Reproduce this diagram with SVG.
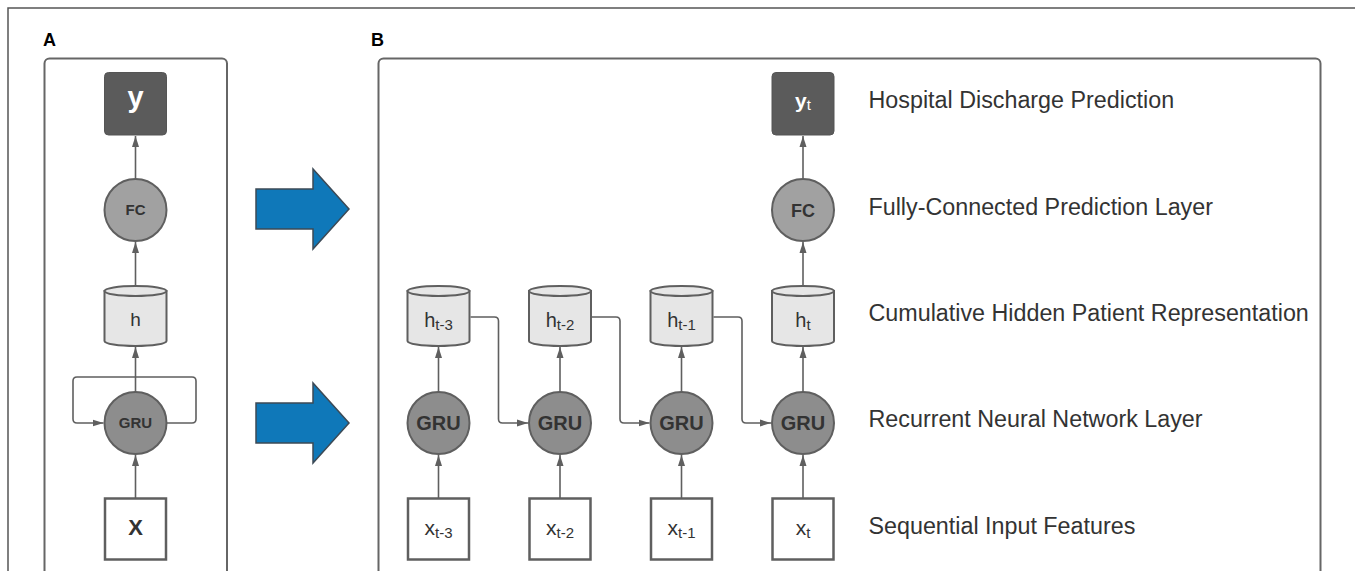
<svg xmlns="http://www.w3.org/2000/svg" width="1355" height="571" viewBox="0 0 1355 571">
<defs>
<marker id="ah" markerUnits="userSpaceOnUse" markerWidth="12" markerHeight="8" refX="11" refY="4" orient="auto">
<path d="M0,0.5 L11,4 L0,7.5 Z" fill="#5f5f5f"/>
</marker>
<style>
.frame{fill:none;stroke:#666;stroke-width:2}
.outer{fill:none;stroke:#555;stroke-width:1.5}
.big{fill:#0f78b9;stroke:#3c4a56;stroke-width:1.5}
.ybox{fill:#5b5b5b;stroke:#555;stroke-width:1}
.xbox{fill:#fff;stroke:#5f5f5f;stroke-width:2.5}
.fc{fill:#a1a1a1;stroke:#5f5f5f;stroke-width:2}
.gru{fill:#8d8d8d;stroke:#5f5f5f;stroke-width:2}
.cyl{fill:#e6e6e6;stroke:#5f5f5f;stroke-width:2}
.con{fill:none;stroke:#5f5f5f;stroke-width:1.6;marker-end:url(#ah)}
text{font-family:"Liberation Sans",Arial,sans-serif}
.lbl{font-size:23.3px;fill:#333}
.pan{font-size:18px;font-weight:bold;fill:#000}
.nt{fill:#333;text-anchor:middle}
.wt{fill:#fff;text-anchor:middle}
</style>
</defs>
<rect class="outer" x="8" y="8" width="1400" height="600"/>
<text class="pan" x="43" y="46">A</text>
<text class="pan" x="371" y="46">B</text>
<rect class="frame" x="44.5" y="58.5" width="182.5" height="560" rx="5"/>
<rect class="frame" x="378.5" y="58.5" width="942" height="560" rx="5"/>
<g id="arrow1"><polygon class="big" points="256,189 313,189 313,169 349,209 313,249 313,229 256,229"/></g>
<g id="arrow2"><polygon class="big" points="256,403 313,403 313,383 349,423 313,463 313,443 256,443"/></g>
<g id="connectors">
<path class="con" d="M135.5,178.5 V136"/>
<path class="con" d="M135.5,286 V242"/>
<path class="con" d="M135.5,392 V347"/>
<path class="con" d="M135.5,498 V455"/>
<path class="con" d="M166.5,423 H192 Q196,423 196,419 V381 Q196,377 192,377 H77 Q73,377 73,381 V419 Q73,423 77,423 H103.5"/>
<path class="con" d="M438.5,498.5 V455"/>
<path class="con" d="M560,498.5 V455"/>
<path class="con" d="M681.5,498.5 V455"/>
<path class="con" d="M803,498.5 V455"/>
<path class="con" d="M438.5,392 V347"/>
<path class="con" d="M560,392 V347"/>
<path class="con" d="M681.5,392 V347"/>
<path class="con" d="M803,392 V347"/>
<path class="con" d="M803,286 V242"/>
<path class="con" d="M803,178.5 V136"/>
<path class="con" d="M470.5,317 H494.5 Q498.5,317 498.5,321 V419 Q498.5,423 502.5,423 H528"/>
<path class="con" d="M592,317 H616 Q620,317 620,321 V419 Q620,423 624,423 H649.5"/>
<path class="con" d="M713.5,317 H738 Q742,317 742,321 V419 Q742,423 746,423 H771"/>
</g>
<g id="A_y"><rect class="ybox" x="104.5" y="72.5" width="62" height="62.5" rx="4"/><text class="wt" x="135.5" y="106.5" font-size="29" font-weight="bold">y</text></g>
<g id="A_fc"><circle class="fc" cx="135.5" cy="210" r="31"/><text class="nt" x="135.5" y="215" font-size="15" font-weight="bold">FC</text></g>
<g id="A_h"><path class="cyl" d="M104.5,291 V341 A31,5 0 0 0 166.5,341 V291 Z"/><ellipse class="cyl" cx="135.5" cy="291" rx="31" ry="5"/><text class="nt" x="135.5" y="326" font-size="19">h</text></g>
<g id="A_gru"><circle class="gru" cx="135.5" cy="423" r="31"/><text class="nt" x="135.5" y="428" font-size="15" font-weight="bold">GRU</text></g>
<g id="A_x"><rect class="xbox" x="105" y="498.5" width="61" height="61"/><text class="nt" x="135.5" y="535" font-size="22" font-weight="bold">X</text></g>
<g id="B_y"><rect class="ybox" x="772" y="72.5" width="62" height="62.5" rx="4"/><text class="wt" x="803" y="107.5"><tspan font-size="21" font-weight="bold">y</tspan><tspan font-size="15" dy="2.5">t</tspan></text></g>
<g id="B_fc"><circle class="fc" cx="803" cy="210" r="31"/><text class="nt" x="803" y="216.5" font-size="18" font-weight="bold">FC</text></g>
<g id="B_h3"><path class="cyl" d="M407.5,291 V341 A31,5 0 0 0 469.5,341 V291 Z"/><ellipse class="cyl" cx="438.5" cy="291" rx="31" ry="5"/><text class="nt" x="438.5" y="326.5"><tspan font-size="20">h</tspan><tspan font-size="15" dy="3">t-3</tspan></text></g>
<g id="B_h2"><path class="cyl" d="M529,291 V341 A31,5 0 0 0 591,341 V291 Z"/><ellipse class="cyl" cx="560" cy="291" rx="31" ry="5"/><text class="nt" x="560" y="326.5"><tspan font-size="20">h</tspan><tspan font-size="15" dy="3">t-2</tspan></text></g>
<g id="B_h1"><path class="cyl" d="M650.5,291 V341 A31,5 0 0 0 712.5,341 V291 Z"/><ellipse class="cyl" cx="681.5" cy="291" rx="31" ry="5"/><text class="nt" x="681.5" y="326.5"><tspan font-size="20">h</tspan><tspan font-size="15" dy="3">t-1</tspan></text></g>
<g id="B_h0"><path class="cyl" d="M772,291 V341 A31,5 0 0 0 834,341 V291 Z"/><ellipse class="cyl" cx="803" cy="291" rx="31" ry="5"/><text class="nt" x="803" y="326.5"><tspan font-size="20">h</tspan><tspan font-size="15" dy="3">t</tspan></text></g>
<g id="B_g3"><circle class="gru" cx="438.5" cy="423" r="31"/><text class="nt" x="438.5" y="430" font-size="20" font-weight="bold">GRU</text></g>
<g id="B_g2"><circle class="gru" cx="560" cy="423" r="31"/><text class="nt" x="560" y="430" font-size="20" font-weight="bold">GRU</text></g>
<g id="B_g1"><circle class="gru" cx="681.5" cy="423" r="31"/><text class="nt" x="681.5" y="430" font-size="20" font-weight="bold">GRU</text></g>
<g id="B_g0"><circle class="gru" cx="803" cy="423" r="31"/><text class="nt" x="803" y="430" font-size="20" font-weight="bold">GRU</text></g>
<g id="B_x3"><rect class="xbox" x="408" y="498.5" width="61" height="61"/><text class="nt" x="438.5" y="535"><tspan font-size="21">x</tspan><tspan font-size="15" dy="2.5">t-3</tspan></text></g>
<g id="B_x2"><rect class="xbox" x="529.5" y="498.5" width="61" height="61"/><text class="nt" x="560" y="535"><tspan font-size="21">x</tspan><tspan font-size="15" dy="2.5">t-2</tspan></text></g>
<g id="B_x1"><rect class="xbox" x="651" y="498.5" width="61" height="61"/><text class="nt" x="681.5" y="535"><tspan font-size="21">x</tspan><tspan font-size="15" dy="2.5">t-1</tspan></text></g>
<g id="B_x0"><rect class="xbox" x="772.5" y="498.5" width="61" height="61"/><text class="nt" x="803" y="535"><tspan font-size="21">x</tspan><tspan font-size="15" dy="2.5">t</tspan></text></g>
<g id="labels">
<text class="lbl" x="868.5" y="108">Hospital Discharge Prediction</text>
<text class="lbl" x="868.5" y="215">Fully-Connected Prediction Layer</text>
<text class="lbl" x="868.5" y="320.5">Cumulative Hidden Patient Representation</text>
<text class="lbl" x="868.5" y="427">Recurrent Neural Network Layer</text>
<text class="lbl" x="868.5" y="533.5">Sequential Input Features</text>
</g>
</svg>
